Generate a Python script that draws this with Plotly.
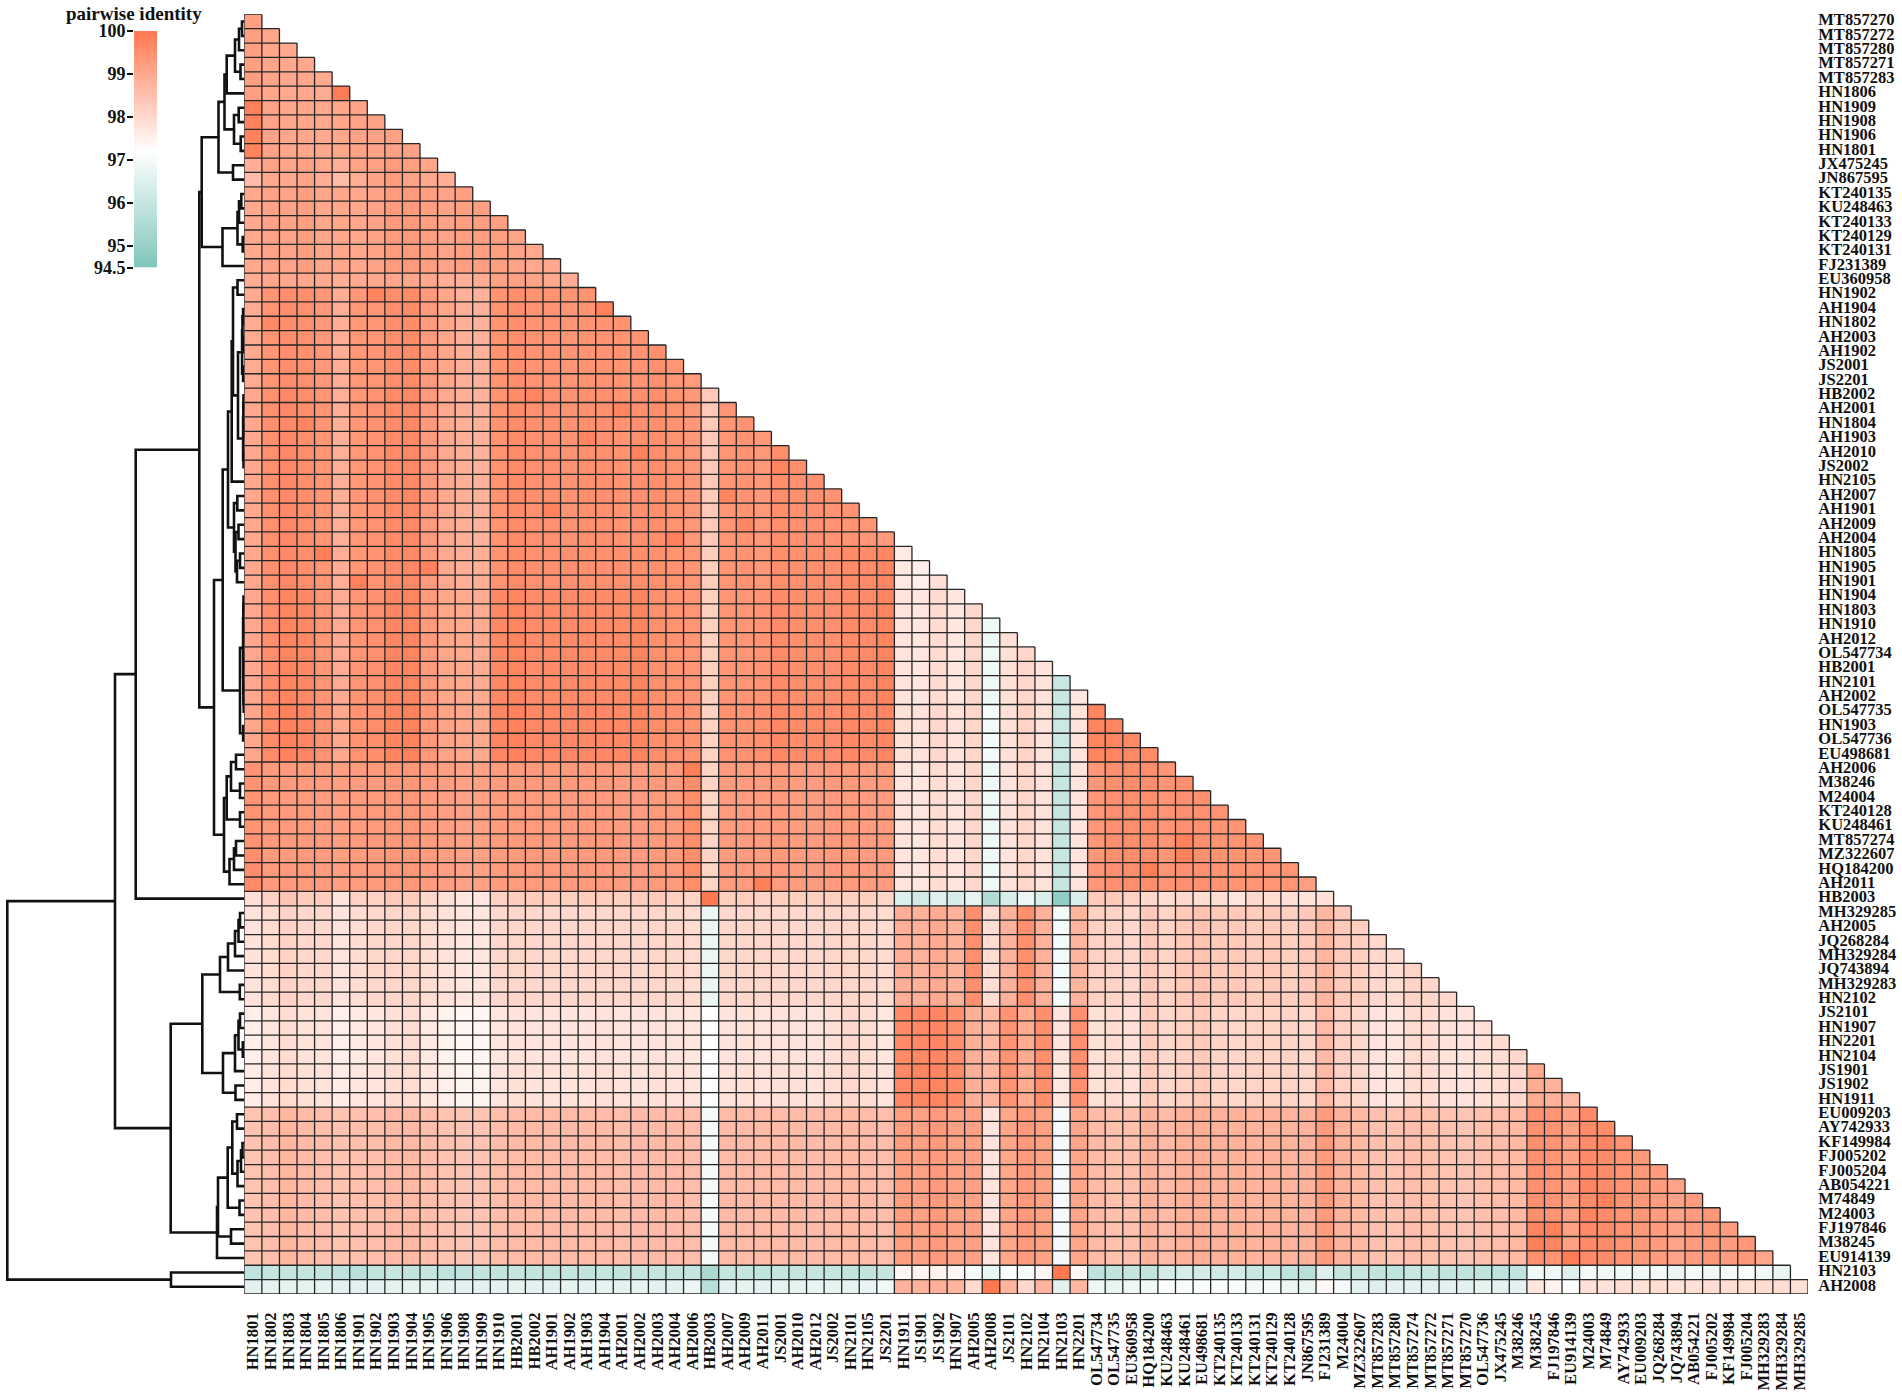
import plotly.graph_objects as go
import numpy as np

row_labels = ["MT857270","MT857272","MT857280","MT857271","MT857283","HN1806","HN1909","HN1908","HN1906","HN1801",
"JX475245","JN867595","KT240135","KU248463","KT240133","KT240129","KT240131","FJ231389","EU360958","HN1902",
"AH1904","HN1802","AH2003","AH1902","JS2001","JS2201","HB2002","AH2001","HN1804","AH1903",
"AH2010","JS2002","HN2105","AH2007","AH1901","AH2009","AH2004","HN1805","HN1905","HN1901",
"HN1904","HN1803","HN1910","AH2012","OL547734","HB2001","HN2101","AH2002","OL547735","HN1903",
"OL547736","EU498681","AH2006","M38246","M24004","KT240128","KU248461","MT857274","MZ322607","HQ184200",
"AH2011","HB2003","MH329285","AH2005","JQ268284","MH329284","JQ743894","MH329283","HN2102","JS2101",
"HN1907","HN2201","HN2104","JS1901","JS1902","HN1911","EU009203","AY742933","KF149984","FJ005202",
"FJ005204","AB054221","M74849","M24003","FJ197846","M38245","EU914139","HN2103","AH2008"]

col_labels = ["HN1801","HN1802","HN1803","HN1804","HN1805","HN1806","HN1901","HN1902","HN1903","HN1904",
"HN1905","HN1906","HN1908","HN1909","HN1910","HB2001","HB2002","AH1901","AH1902","AH1903",
"AH1904","AH2001","AH2002","AH2003","AH2004","AH2006","HB2003","AH2007","AH2009","AH2011",
"JS2001","AH2010","AH2012","JS2002","HN2101","HN2105","JS2201","HN1911","JS1901","JS1902",
"HN1907","AH2005","AH2008","JS2101","HN2102","HN2104","HN2103","HN2201","OL547734","OL547735",
"EU360958","HQ184200","KU248463","KU248461","EU498681","KT240135","KT240133","KT240131","KT240129","KT240128",
"JN867595","FJ231389","M24004","MZ322607","MT857283","MT857280","MT857274","MT857272","MT857271","MT857270",
"OL547736","JX475245","M38246","M38245","FJ197846","EU914139","M24003","M74849","AY742933","EU009203",
"JQ268284","JQ743894","AB054221","FJ005202","KF149984","FJ005204","MH329283","MH329284","MH329285"]

# pairwise identity (%), one list per horizontal band of rows, left to right
band_r1_6 = [99.2,99.05,99.0,99.0,98.95,99.9]
band_r7_10 = [99.8,99.1,99.05,99.05,99.0,99.05,99.1,99.1,99.15,99.1]
row_11 = [98.85,99.1,99.05,99.15,99.0,98.85,99.1,99.15,99.3,99.2,99.05]
row_12 = [98.6,99.0,99.0,99.1,98.9,98.6,98.9,99.1,99.3,99.1,99.0,98.9]
band_r13_18 = [99.0,99.1,99.1,99.2,99.05,99.05,99.0,99.1,99.3,99.3,99.2,99.1,99.2,99.2,99.2,99.1,99.0,99.0]
row_19 = [98.9,99.0,99.0,99.0,98.95,98.85,98.95,99.0,99.05,99.05,99.0,98.85,98.85,98.9,99.15,99.15,99.1,99.0,98.9]
band_r20_26 = [98.95,99.4,99.55,99.5,99.35,98.9,99.35,99.4,99.55,99.6,99.3,99.05,98.85,98.8,99.45,99.55,99.45,
               99.45,99.4,99.45,99.45,99.45,99.45,99.5,99.4,99.3]
band_r27_37 = [99.0,99.5,99.65,99.55,99.4,98.85,99.35,99.45,99.6,99.65,99.3,99.0,98.85,98.8,99.45,99.6,99.5,
               99.5,99.45,99.5,99.5,99.45,99.5,99.55,99.45,99.35,98.35,99.4,99.45,99.35,
               99.55,99.5,99.5,99.45,99.45,99.4,99.3]
band_r38_40 = [99.0,99.5,99.65,99.55,99.4,98.9,99.35,99.45,99.6,99.65,99.3,99.0,98.85,98.85,99.45,99.6,99.5,
               99.5,99.5,99.5,99.5,99.5,99.55,99.5,99.45,99.4,98.25,99.4,99.45,99.35,
               99.55,99.5,99.55,99.5,99.6,99.6,99.7,97.65,97.55,97.85]
band_r41_48 = [99.0,99.55,99.75,99.65,99.4,98.95,99.4,99.5,99.7,99.75,99.3,99.05,99.0,98.95,99.65,99.75,99.6,
               99.6,99.6,99.6,99.6,99.6,99.75,99.5,99.45,99.4,98.2,99.4,99.4,99.45,
               99.6,99.55,99.55,99.5,99.6,99.6,99.75,97.75,97.7,97.95,97.7,98.0,96.85,97.85,98.05,97.8,96.05,97.7]
band_r49_52 = [99.05,99.6,99.8,99.7,99.45,99.0,99.45,99.55,99.75,99.8,99.35,99.1,99.05,99.0,99.7,99.8,99.65,
               99.65,99.65,99.65,99.65,99.65,99.75,99.55,99.5,99.45,98.15,99.45,99.45,99.5,
               99.65,99.6,99.6,99.55,99.65,99.6,99.7,97.85,97.8,98.0,97.8,98.05,96.95,97.85,98.1,97.8,96.1,97.8,
               99.75,99.75,99.65,99.6]
band_r53_61 = [99.45,99.3,99.3,99.3,99.25,99.2,99.25,99.3,99.35,99.35,99.25,99.2,99.15,99.15,99.25,99.3,99.3,
               99.3,99.3,99.3,99.3,99.25,99.25,99.3,99.3,99.55,98.1,99.25,99.25,99.25,
               99.3,99.25,99.25,99.3,99.3,99.25,99.3,97.75,97.7,97.9,97.75,98.0,96.85,97.8,98.05,97.8,96.0,97.75,
               99.35,99.5,99.55,99.55,99.4,99.5,99.5,99.45,99.45,99.4,99.4,99.4,99.2]
row_62 = [97.85,98.15,98.4,98.25,98.25,97.75,98.15,98.15,98.3,98.25,98.0,97.85,97.7,97.7,98.15,98.25,98.25,
          98.25,98.2,98.25,98.25,98.2,98.25,98.3,98.2,98.1,100.0,98.2,98.25,98.15,
          98.2,98.2,98.2,98.2,98.2,98.2,98.1,96.45,96.25,96.55,96.35,96.65,95.55,96.35,96.8,96.4,94.85,96.4,
          98.3,98.3,98.15,98.0,97.9,98.0,97.9,97.9,97.75,98.0,97.95,97.85,97.8,97.85]
band_r63_69 = [97.8,97.95,98.1,98.0,98.0,97.75,97.9,98.0,98.05,98.05,97.9,97.8,97.7,97.7,98.0,98.05,98.0,
               98.0,98.0,98.0,98.0,98.0,98.0,98.05,98.0,97.95,96.8,98.0,98.0,98.0,
               98.0,98.0,98.0,98.05,98.05,98.0,97.95,98.85,98.8,98.95,98.8,99.5,97.9,98.8,99.5,98.8,96.95,98.75,
               98.15,98.1,98.0,98.3,98.1,98.3,98.45,98.3,98.3,98.25,98.3,98.2,98.3,98.7,98.3,98.2,98.0,97.95,98.1,98.05,98.0]
band_r70_73 = [97.55,97.75,97.9,97.8,97.75,97.55,97.65,97.7,97.85,97.9,97.65,97.5,97.4,97.4,97.7,97.8,97.75,
               97.75,97.75,97.75,97.8,97.75,97.75,97.8,97.75,97.7,97.15,97.75,97.8,97.75,
               97.8,97.8,97.75,97.85,98.0,97.9,97.7,99.6,99.65,99.7,99.55,98.85,98.65,99.45,98.95,99.55,97.75,99.5,
               97.85,97.95,97.85,98.25,98.0,98.15,98.3,98.1,98.05,98.1,98.1,98.1,98.05,98.6,98.15,98.0,97.75,97.7,97.95,97.9,97.8,97.75,97.85,97.9,98.0]
band_r74_76 = [97.6,97.8,97.95,97.85,97.8,97.6,97.7,97.75,97.9,97.95,97.7,97.55,97.45,97.45,97.75,97.85,97.8,
               97.8,97.8,97.8,97.85,97.8,97.8,97.85,97.8,97.75,97.15,97.8,97.85,97.8,
               97.85,97.85,97.8,97.9,98.0,97.9,97.75,99.65,99.7,99.75,99.6,98.85,98.7,99.45,98.95,99.55,97.7,99.5,
               97.85,97.95,97.85,98.25,98.0,98.15,98.3,98.1,98.05,98.1,98.1,98.1,98.05,98.6,98.15,98.0,97.75,97.7,97.95,97.9,97.8,97.75,97.85,97.9,98.0,98.95,98.8,98.6]
band_r77_87 = [98.45,98.55,98.7,98.6,98.55,98.45,98.5,98.55,98.65,98.65,98.55,98.45,98.4,98.4,98.55,98.6,98.6,
               98.6,98.6,98.6,98.6,98.55,98.6,98.6,98.6,98.55,96.95,98.6,98.6,98.6,
               98.6,98.6,98.6,98.6,98.65,98.6,98.55,99.2,99.15,99.3,99.15,99.15,97.75,99.05,99.3,99.15,96.95,99.05,
               98.6,98.5,98.5,98.8,98.6,98.8,98.9,98.8,98.8,98.75,98.8,98.75,98.8,99.25,98.8,98.65,98.5,98.45,98.55,98.5,98.45,98.4,98.5,98.55,98.65,
               99.5,99.4,99.15,99.6,99.6,99.45,99.35,99.25,99.1,99.25,99.35,99.25,99.35,99.05]
row_88 = [95.85,95.95,95.95,95.95,95.95,95.85,95.75,95.9,96.0,95.9,95.95,95.85,95.85,95.9,95.9,95.95,95.9,
          95.9,95.95,95.9,95.95,95.9,95.95,95.95,95.95,95.95,95.4,95.95,95.95,95.9,
          95.95,95.95,95.95,95.95,95.9,95.9,95.95,97.4,97.45,97.5,97.4,97.0,96.75,97.1,97.0,97.4,100.0,97.4,
          95.83,95.91,95.96,95.91,96.25,96.31,96.25,96.2,96.25,96.04,96.1,95.85,95.7,96.5,95.98,96.0,95.9,95.85,96.0,96.0,95.9,95.85,95.9,95.85,95.85,
          96.9,96.85,96.5,96.95,96.9,96.9,96.85,96.95,96.75,96.95,96.9,96.95,97.05,96.9,96.75]
row_89 = [96.6,96.65,96.65,96.65,96.65,96.55,96.55,96.6,96.65,96.65,96.65,96.6,96.6,96.6,96.6,96.65,96.6,
          96.6,96.65,96.6,96.65,96.6,96.65,96.6,96.6,96.8,95.7,96.6,96.65,96.6,
          96.65,96.65,96.7,96.65,96.65,96.7,96.9,98.8,98.8,98.85,98.75,97.95,100.0,98.75,98.0,98.75,96.6,98.7,
          96.84,96.71,96.82,96.88,97.15,97.08,97.1,97.12,97.08,96.93,97.0,96.78,96.71,97.35,96.95,96.6,96.48,96.6,96.6,96.55,96.6,96.6,96.65,96.6,96.6,
          97.7,97.45,97.15,97.85,97.8,97.9,97.85,97.9,97.8,97.85,97.9,97.9,97.85,97.95,97.9,97.85]

# first and last row (1-based) that each band covers
bands = [(1,6,band_r1_6),(7,10,band_r7_10),(11,11,row_11),(12,12,row_12),(13,18,band_r13_18),(19,19,row_19),
         (20,26,band_r20_26),(27,37,band_r27_37),(38,40,band_r38_40),(41,48,band_r41_48),(49,52,band_r49_52),
         (53,61,band_r53_61),(62,62,row_62),(63,69,band_r63_69),(70,73,band_r70_73),(74,76,band_r74_76),
         (77,87,band_r77_87),(88,88,row_88),(89,89,row_89)]

# single cells that stand out from their band: (row, column, identity), 1-based
spot_cells = [(20,8,99.75),(21,21,99.8),(22,2,99.65),(27,17,99.75),(28,22,99.75),(29,4,99.75),(30,20,99.75),(31,23,99.8),
              (32,31,99.75),(34,28,99.75),(35,18,99.8),(36,29,99.7),(37,25,99.8),(38,5,99.85),(39,11,99.8),(40,7,99.8),
              (53,26,99.85),(61,30,99.85),(58,54,99.8),(59,54,99.8),(60,52,99.85),(83,78,99.8),(84,77,99.75),(82,77,99.7),
              (85,74,99.75),(85,75,99.8),(86,74,99.85),(86,75,99.7),(87,76,99.9),(79,78,99.7),(59,1,99.55),(60,1,99.55),(61,1,99.6)]

# dendrogram: (merge distance, child, child); an integer child is a 1-based row
tree = (237.0,
  (129.3,
    (108.6,
      (45.0,
        (42.6,
          (25.8,
            (19.8,
              (17.6, (9.3, (5.3, (2.3, 1, 2), 3), (3.8, 4, 5)), 6),
              (10.3, (5.6, 7, 8), (3.6, 9, 10))),
            (11.3, 11, 12)),
          (21.8, (6.8, (5.3, (3.0, 13, 14), 15), (1.6, 16, 17)), 18)),
        (30.3,
          (21.6,
            (16.3,
              (12.6,
                (11.3,
                  (6.8, 19, 20),
                  (6.3,
                    (2.2, (1.8, (1.2, 21, 22), (1.2, 23, 24)), (1.2, 25, 26)),
                    (1.2, (1.0, (0.8, 27, 28), (0.8, 29, 30)), (0.8, 31, 32)))),
                33),
              (10.3, (7.0, 34, 35), (8.8, (5.8, 36, 37), (7.3, (4.3, 38, 39), 40)))),
            (4.3,
              (1.2, (1.0, (0.8, 41, 42), (0.8, 43, 44)), (1.0, (0.8, 45, 46), (0.8, 47, (0.6, 48, 49)))),
              (1.2, 50, 51))),
          (20.3,
            (17.6, (13.3, (8.3, 52, 53), (4.3, 54, 55)), (4.3, 56, 57)),
            (14.8, (10.3, (8.3, 58, 59), 60), 61)))),
      62),
    (73.6,
      (42.0,
        (24.3,
          (16.3, (9.3, (5.8, (4.3, 63, 64), 65), 66), 67),
          (4.5, 68, 69)),
        (21.3,
          (9.3, (5.8, (4.3, 70, 71), (1.5, 72, 73)), 74),
          (8.8, 75, 76))),
      (27.3,
        (26.3,
          (16.6,
            (12.0, (7.3, 77, 78), (6.8, (3.3, (1.8, 79, 80), 81), 82)),
            (4.8, 83, 84)),
          (13.3, 85, 86)),
        87))),
  (73.3, 88, 89))

colorbar_ticks = [94.5, 95, 96, 97, 98, 99, 100]
colorscale_stops = [[0.0, "#7FC6BC"], [0.4909, "#FFFFFF"], [1.0, "#FF7850"]]

W, H = 1902, 1396
n = len(row_labels)
z = [[None] * n for _ in range(n)]
for first, last, values in bands:
    for r in range(first, last + 1):
        for c in range(r):
            z[r - 1][c] = values[c]
for r, c, v in spot_cells:
    z[r - 1][c - 1] = v

# dendrogram segments, placed from the tree through the distance axis
dx, dy = [], []
def walk(node):
    if isinstance(node, int):
        return 0.0, node - 1.0
    h, a, b = node
    ha, ya = walk(a)
    hb, yb = walk(b)
    dx.extend([ha, h, h, hb, None])
    dy.extend([ya, ya, yb, yb, None])
    return h, (ya + yb) / 2
walk(tree)

# grid lines of the triangular table
gx, gy = [], []
for k in range(n + 1):
    right = min(k, n - 1) + 0.5
    gx.extend([-0.5, right, None]); gy.extend([k - 0.5, k - 0.5, None])
    top = max(k - 1, 0) - 0.5
    gx.extend([k - 0.5, k - 0.5, None]); gy.extend([top, n - 0.5, None])

LEFT, RIGHT, TOP, BOTTOM = 244.3, 1808.0, 14.3, 1294.0
FONT = dict(family="Liberation Serif", size=16.5, color="#111111", weight=700)

fig = go.Figure()
fig.add_trace(go.Heatmap(z=z, x=list(range(n)), y=list(range(n)), colorscale=colorscale_stops,
                         zmin=94.5, zmax=100, showscale=False, hoverongaps=False))
fig.add_trace(go.Scatter(x=gx, y=gy, mode="lines", line=dict(color="#262626", width=1.3), hoverinfo="skip", showlegend=False))
fig.add_trace(go.Scatter(x=dx, y=dy, xaxis="x2", yaxis="y", mode="lines",
                         line=dict(color="#111111", width=2.6), hoverinfo="skip", showlegend=False))
levels = np.arange(94.5, 100.001, 0.02)
fig.add_trace(go.Heatmap(z=[[v] for v in levels], x=[0], y=levels, xaxis="x3", yaxis="y3",
                         colorscale=colorscale_stops, zmin=94.5, zmax=100, showscale=False, hoverinfo="skip"))

fig.update_layout(
    template=None,
    width=W, height=H, margin=dict(l=0, r=0, t=0, b=0, pad=0), autosize=False,
    paper_bgcolor="white", plot_bgcolor="white", showlegend=False,
    xaxis=dict(domain=[LEFT / W, RIGHT / W], range=[-0.5, n - 0.5], tickmode="array", tickvals=list(range(n)),
               ticktext=col_labels, tickangle=-90, tickfont=FONT, ticks="outside", ticklen=11,
               tickcolor="rgba(0,0,0,0)", showgrid=False, zeroline=False, showline=False, anchor="y", automargin=False),
    yaxis=dict(domain=[1 - BOTTOM / H, 1 - TOP / H], range=[n - 0.5, -0.5], tickmode="array", tickvals=list(range(n)),
               ticktext=row_labels, tickfont=FONT, side="right", ticks="outside", ticklen=6, ticklabelshift=2,
               tickcolor="rgba(0,0,0,0)", showgrid=False, zeroline=False, showline=False, anchor="x", automargin=False),
    xaxis2=dict(domain=[0, LEFT / W], range=[LEFT, 0], visible=False, anchor="y", automargin=False),
    xaxis3=dict(domain=[134 / W, 157.3 / W], range=[-0.5, 0.5], visible=False, anchor="y3", automargin=False),
    yaxis3=dict(domain=[1 - 267.5 / H, 1 - 31 / H], range=[94.5, 100], anchor="x3", side="left",
                tickmode="array", tickvals=colorbar_ticks, ticktext=[str(t) for t in colorbar_ticks],
                tickfont=dict(family="Liberation Serif", size=18, color="#111111", weight=700),
                ticks="outside", ticklen=6, tickwidth=1.5, tickcolor="#111111", ticklabelstandoff=-2,
                showgrid=False, zeroline=False, showline=False, automargin=False),
    annotations=[dict(text="pairwise identity", x=134 / W, y=1 - 14 / H, xref="paper", yref="paper",
                      showarrow=False, xanchor="center", yanchor="middle",
                      font=dict(family="Liberation Serif", size=19, color="#111111", weight=700))],
)
fig.write_html("out.html", config={"displayModeBar": False},
               post_script="document.body.style.margin='0';var d=document.getElementById('{plot_id}');d.style.position='absolute';d.style.left='0';d.style.top='0';")
